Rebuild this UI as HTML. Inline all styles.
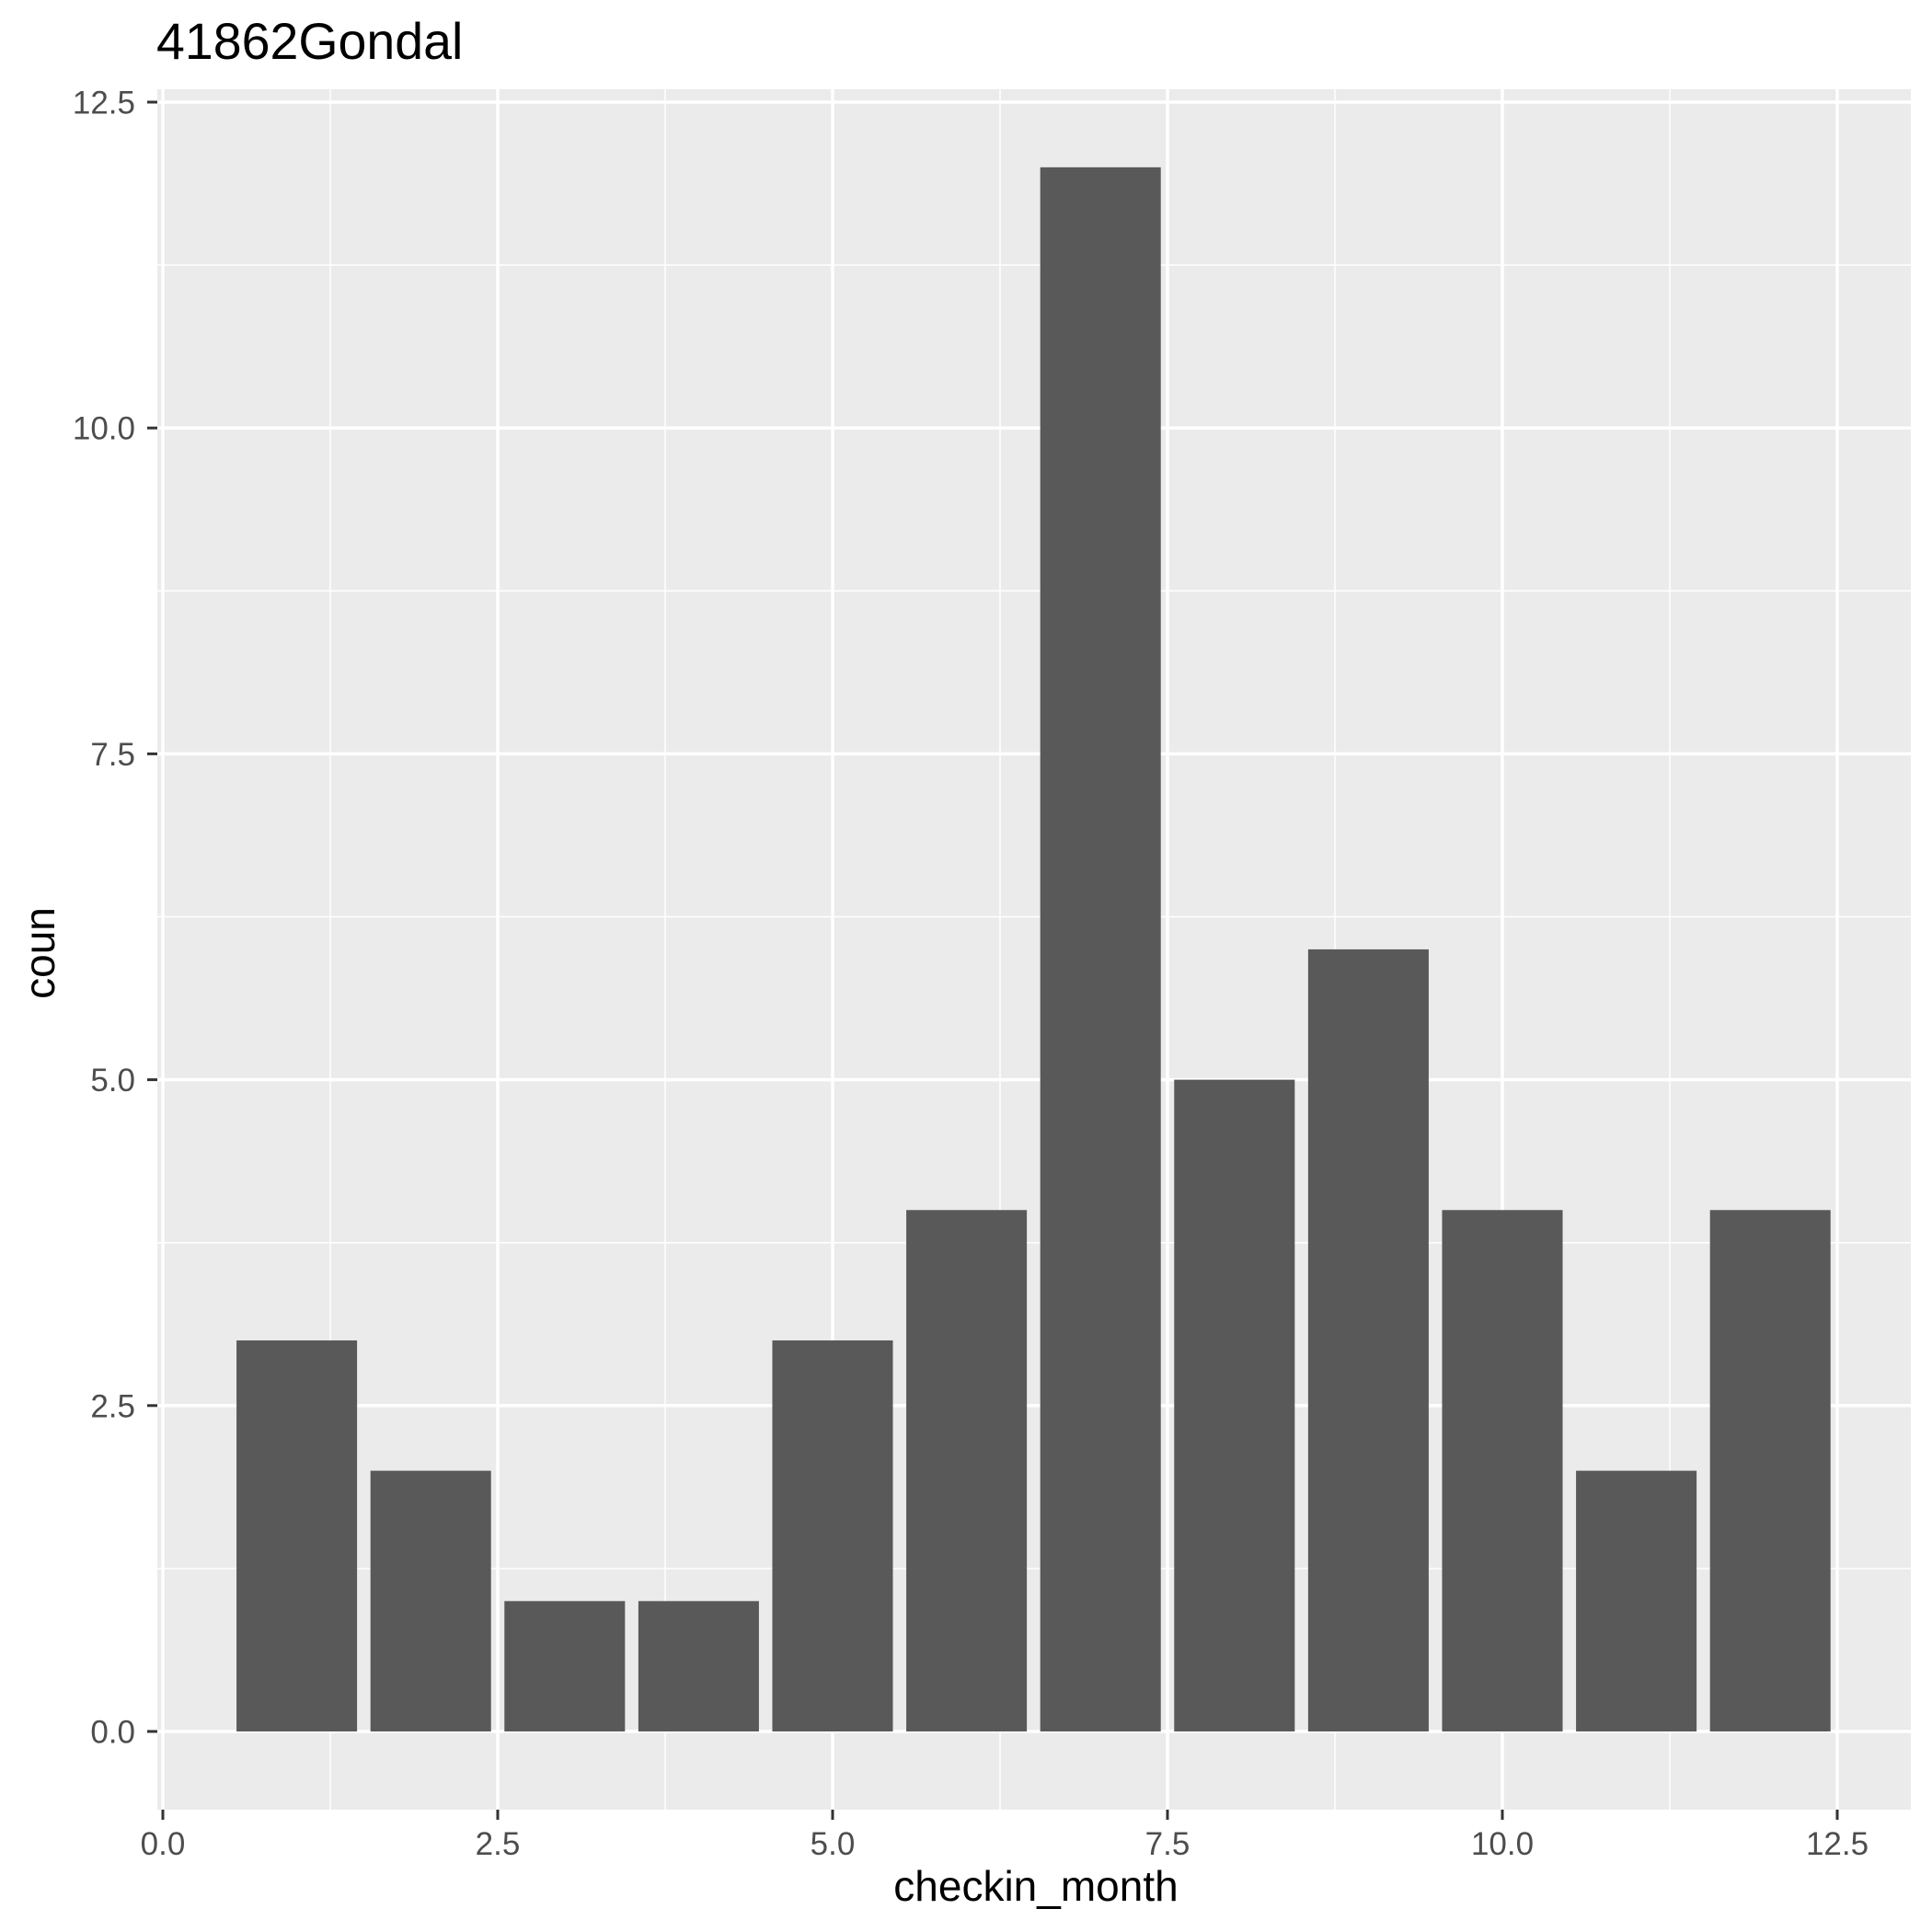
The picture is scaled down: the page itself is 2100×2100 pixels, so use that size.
<!DOCTYPE html>
<html><head><meta charset="utf-8"><style>
html,body{margin:0;padding:0;background:#fff;}
svg{display:block;font-family:"Liberation Sans",Arial,sans-serif;}
</style></head><body>
<svg id="chart" width="2100" height="2100" viewBox="0 0 2100 2100" xmlns="http://www.w3.org/2000/svg">
<text x="170" y="64" font-size="55.5" fill="#000">41862Gondal</text>
<rect x="171" y="97" width="1906" height="1870" fill="#ebebeb"/>
<g id="grid"></g>
<g id="bars"></g>
<g id="axes"></g>
<text x="1126" y="2066" font-size="46" text-anchor="middle" fill="#000">checkin_month</text>
<text transform="translate(59,1036) rotate(-90)" font-size="46" text-anchor="middle" fill="#000">coun</text>
</svg>
<script>
const months = [1,2,3,4,5,6,7,8,9,10,11,12];
const counts = [3,2,1,1,3,4,12,5,6,4,2,4];
const xTicks = [0,2.5,5,7.5,10,12.5];
const xTickLabels = ["0.0","2.5","5.0","7.5","10.0","12.5"];
const yTicks = [0,2.5,5,7.5,10,12.5];
const yTickLabels = ["0.0","2.5","5.0","7.5","10.0","12.5"];
const NS="http://www.w3.org/2000/svg";
const px0=171,px1=2077,py0=97,py1=1967;
const xs=v=>177+v*145.6;
const ys=v=>1882-v*141.68;
function mk(tag,attrs,parent){const e=document.createElementNS(NS,tag);for(const k in attrs)e.setAttribute(k,attrs[k]);parent.appendChild(e);return e;}
const grid=document.getElementById('grid'),bars=document.getElementById('bars'),axes=document.getElementById('axes');
for(let i=0;i<xTicks.length-1;i++){const m=(xTicks[i]+xTicks[i+1])/2;
 const l=mk('line',{x1:xs(m),x2:xs(m),y1:py0,y2:py1,stroke:'#fff','stroke-width':1.5},grid);
 
 }
for(let i=0;i<yTicks.length-1;i++){const m=(yTicks[i]+yTicks[i+1])/2;
 const l=mk('line',{x1:px0,x2:px1,y1:ys(m),y2:ys(m),stroke:'#fff','stroke-width':1.5},grid);
 
 }
xTicks.forEach((t,i)=>{
 const l=mk('line',{x1:xs(t),x2:xs(t),y1:py0,y2:py1,stroke:'#fff','stroke-width':3.5},grid);
 
 
 const tk=mk('line',{x1:xs(t),x2:xs(t),y1:py1,y2:py1+11,stroke:'#333','stroke-width':3},axes);
 
 
 const tx=mk('text',{x:xs(t),y:2016,'font-size':35,'text-anchor':'middle',fill:'#4d4d4d'},axes);
 tx.textContent=xTickLabels[i];
 
 
});
yTicks.forEach((t,i)=>{
 const l=mk('line',{x1:px0,x2:px1,y1:ys(t),y2:ys(t),stroke:'#fff','stroke-width':3.5},grid);
 
 
 const tk=mk('line',{x1:px0-11,x2:px0,y1:ys(t),y2:ys(t),stroke:'#333','stroke-width':3},axes);
 
 
 const tx=mk('text',{x:147,y:ys(t)+12.5,'font-size':35,'text-anchor':'end',fill:'#4d4d4d'},axes);
 tx.textContent=yTickLabels[i];
 
 
});
months.forEach((m,i)=>{
 const x0=xs(m-0.45),x1=xs(m+0.45);
 const r=mk('rect',{x:x0,y:ys(counts[i]),width:x1-x0,height:ys(0)-ys(counts[i]),fill:'#595959'},bars);
 
 
});
</script>
</body></html>
